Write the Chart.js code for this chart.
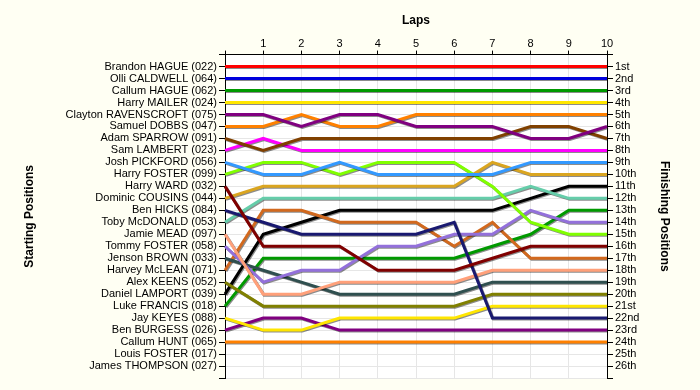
<!DOCTYPE html>
<html>
<head>
<meta charset="utf-8">
<script src="https://cdn.jsdelivr.net/npm/chart.js@4.4.1/dist/chart.umd.min.js"></script>
<style>
  html, body { margin: 0; padding: 0; background: #fffff3; }
</style>
</head>
<body>
<canvas id="lapChart" width="700" height="390"></canvas>
<script>
// --- Data ---
const laps = ['0', '1', '2', '3', '4', '5', '6', '7', '8', '9', '10'];

const drivers = [
    'Brandon HAGUE (022)', 'Olli CALDWELL (064)', 'Callum HAGUE (062)', 'Harry MAILER (024)',
    'Clayton RAVENSCROFT (075)', 'Samuel DOBBS (047)', 'Adam SPARROW (091)', 'Sam LAMBERT (023)',
    'Josh PICKFORD (056)', 'Harry FOSTER (099)', 'Harry WARD (032)', 'Dominic COUSINS (044)',
    'Ben HICKS (084)', 'Toby McDONALD (053)', 'Jamie MEAD (097)', 'Tommy FOSTER (058)',
    'Jenson BROWN (033)', 'Harvey McLEAN (071)', 'Alex KEENS (052)', 'Daniel LAMPORT (039)',
    'Luke FRANCIS (018)', 'Jay KEYES (088)', 'Ben BURGESS (026)', 'Callum HUNT (065)',
    'Louis FOSTER (017)', 'James THOMPSON (027)'
];

const finishLabels = [
    '1st', '2nd', '3rd', '4th', '5th', '6th', '7th', '8th', '9th', '10th', '11th', '12th', '13th',
    '14th', '15th', '16th', '17th', '18th', '19th', '20th', '21st', '22nd', '23rd', '24th', '25th', '26th'
];

const lineColors = [
    '#ff0000', '#0000dd', '#009900', '#ffe600', '#800080', '#ff8000', '#804000', '#ff00ff',
    '#3399ff', '#80ff00', '#800000', '#daa520', '#191970', '#66cdaa', '#ffa07a', '#9370db',
    '#2f4f4f', '#d2691e', '#808000', '#000000', '#009900', '#ffe600', '#800080', '#ff8000'
];

// position of each driver after each lap (lap 0 = grid)
const positions = [
    [1, 1, 1, 1, 1, 1, 1, 1, 1, 1, 1],
    [2, 2, 2, 2, 2, 2, 2, 2, 2, 2, 2],
    [3, 3, 3, 3, 3, 3, 3, 3, 3, 3, 3],
    [4, 4, 4, 4, 4, 4, 4, 4, 4, 4, 4],
    [5, 5, 6, 5, 5, 6, 6, 6, 7, 7, 6],
    [6, 6, 5, 6, 6, 5, 5, 5, 5, 5, 5],
    [7, 8, 7, 7, 7, 7, 7, 7, 6, 6, 7],
    [8, 7, 8, 8, 8, 8, 8, 8, 8, 8, 8],
    [9, 10, 10, 9, 10, 10, 10, 10, 9, 9, 9],
    [10, 9, 9, 10, 9, 9, 9, 11, 14, 15, 15],
    [11, 16, 16, 16, 18, 18, 18, 17, 16, 16, 16],
    [12, 11, 11, 11, 11, 11, 11, 9, 10, 10, 10],
    [13, 14, 15, 15, 15, 15, 14, 22, 22, 22, 22],
    [14, 12, 12, 12, 12, 12, 12, 12, 11, 12, 12],
    [15, 20, 20, 19, 19, 19, 19, 18, 18, 18, 18],
    [16, 19, 18, 18, 16, 16, 15, 15, 13, 14, 14],
    [17, 18, 19, 20, 20, 20, 20, 19, 19, 19, 19],
    [18, 13, 13, 14, 14, 14, 16, 14, 17, 17, 17],
    [19, 21, 21, 21, 21, 21, 21, 20, 20, 20, 20],
    [20, 15, 14, 13, 13, 13, 13, 13, 12, 11, 11],
    [21, 17, 17, 17, 17, 17, 17, 16, 15, 13, 13],
    [22, 23, 23, 22, 22, 22, 22, 21, 21, 21, 21],
    [23, 22, 22, 23, 23, 23, 23, 23, 23, 23, 23],
    [24, 24, 24, 24, 24, 24, 24, 24, 24, 24, 24]
];

// --- Plugins ---
const plotBackground = {
    id: 'plotBackground',
    beforeDraw(chart) {
        const { ctx, chartArea: a } = chart;
        ctx.save();
        ctx.fillStyle = '#ffffff';
        ctx.fillRect(a.left, a.top, a.right - a.left, a.bottom - a.top);
        ctx.restore();
    }
};

const lineShadow = {
    id: 'lineShadow',
    beforeDatasetDraw(chart) {
        const c = chart.ctx;
        c.save();
        c.shadowColor = 'rgba(0,0,0,0.45)';
        c.shadowOffsetX = 1;
        c.shadowOffsetY = 1;
        c.shadowBlur = 0;
    },
    afterDatasetDraw(chart) { chart.ctx.restore(); }
};

// --- Chart ---
const axisFont = { family: 'Liberation Sans', size: 11 };
const titleFont = { family: 'Liberation Sans', size: 12, weight: 'bold' };

function posAxis(position, labels, title, width) {
    return {
        type: 'linear',
        position,
        reverse: true,
        min: 0,
        max: 27,
        afterFit: s => { s.width = width; },
        grid: { color: '#e6e6e6', tickColor: '#000', tickLength: 6, drawOnChartArea: position === 'left' },
        border: { color: '#000' },
        ticks: {
            stepSize: 1, autoSkip: false, color: '#000', font: axisFont, padding: 2,
            callback: v => labels[v - 1] || ''
        },
        title: { display: true, text: title, color: '#000', font: titleFont, padding: { top: 4, bottom: 4 } }
    };
}

new Chart(document.getElementById('lapChart'), {
    type: 'line',
    data: {
        labels: laps,
        datasets: positions.map((p, i) => ({
            label: drivers[i],
            data: p,
            yAxisID: 'y',
            borderColor: lineColors[i],
            borderWidth: 3,
            pointRadius: 0,
            tension: 0,
            fill: false
        }))
    },
    options: {
        responsive: false,
        animation: false,
        layout: { padding: { top: 13, left: 18, right: 24, bottom: 12 } },
        plugins: { legend: { display: false }, tooltip: { enabled: false } },
        scales: {
            x: {
                type: 'category',
                position: 'top',
                offset: false,
                grid: { color: '#e6e6e6', tickColor: '#000', tickLength: 4 },
                border: { color: '#000' },
                ticks: {
                    color: '#000', font: axisFont, padding: 0, maxRotation: 0, autoSkip: false,
                    callback: (v, i) => i === 0 ? '' : laps[i]
                },
                title: { display: true, text: 'Laps', color: '#000', font: titleFont, padding: { top: 0, bottom: 10 } }
            },
            y: posAxis('left', drivers, 'Starting Positions', 207),
            y2: posAxis('right', finishLabels, 'Finishing Positions', 69)
        }
    },
    plugins: [plotBackground, lineShadow]
});
</script>
</body>
</html>
